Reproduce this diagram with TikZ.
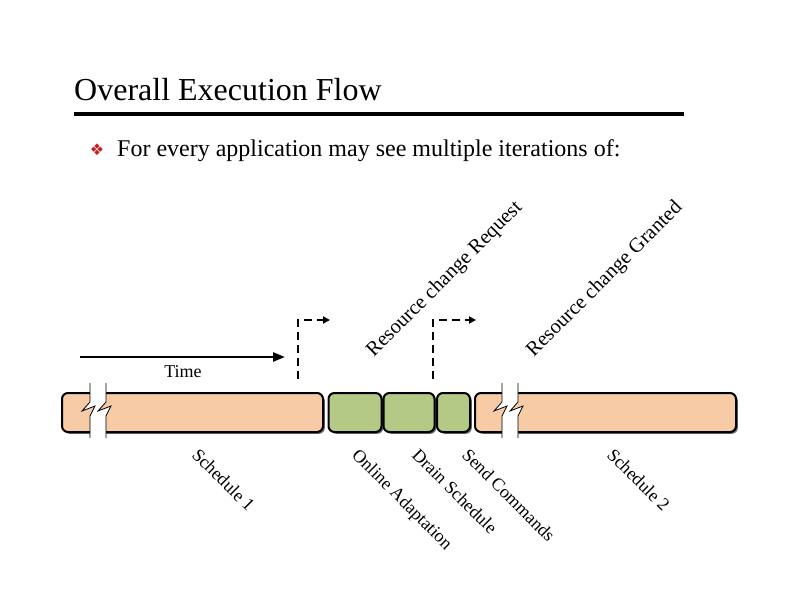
\documentclass[tikz,border=0pt]{standalone}
\usepackage{fontspec}
\setmainfont{Liberation Serif}
\newfontfamily\symfont{DejaVu Sans}
\usetikzlibrary{arrows.meta,shadows}
\definecolor{peach}{RGB}{248,203,167}
\definecolor{leaf}{RGB}{180,201,134}
\definecolor{bulletred}{RGB}{200,30,30}
\tikzset{
  seg/.style={draw=black, line width=2pt, rounded corners=6pt, minimum height=39pt, inner sep=0pt,
    drop shadow={shadow xshift=1.8pt, shadow yshift=-1.8pt, fill=black!60, opacity=1}},
  orange/.style={seg, fill=peach},
  green/.style={seg, fill=leaf},
  steplabel/.style={font=\fontsize{18}{20}\selectfont, rotate=-45, anchor=north west, inner sep=0pt},
  reslabel/.style={font=\fontsize{20.5}{22}\selectfont, rotate=45, anchor=south west, inner sep=0pt},
  dasharrow/.style={line width=2.6pt, dash pattern=on 8pt off 5pt, -{Triangle[length=7pt,width=7pt]}},
  breakedge/.style={draw=black, line width=0.8pt}
}
\begin{document}
\begin{tikzpicture}[x=1pt,y=-1pt]
\useasboundingbox[fill=white] (0,0) rectangle (792,612);
% title
\node[anchor=base west, inner sep=0pt, font=\fontsize{32}{36}\selectfont] (title) at (74,101) {Overall Execution Flow};
\fill (74,112.5) rectangle (684,116.5);
% bullet
\node[inner sep=0pt, text=bulletred, font=\symfont\fontsize{16}{18}\selectfont] (bul) at (97,150) {❖};
\node[anchor=base west, inner sep=0pt, font=\fontsize{24}{28}\selectfont] (btext) at (117,157) {For every application may see multiple iterations of:};
% time arrow
\coordinate (t0) at (80,357);
\coordinate (t1) at (285,357);
\draw[line width=2.5pt, -{Triangle[length=12pt,width=9pt]}] (t0) -- (t1);
\node[font=\fontsize{18}{20}\selectfont, inner sep=0pt] (time) at (183,372) {Time};
% dashed arrows
\coordinate (a0) at (298,379);
\coordinate (a1) at (298,320);
\coordinate (a2) at (330,320);
\draw[dasharrow] (a0) -- (a1) -- (a2);
\coordinate (b0) at (433,379);
\coordinate (b1) at (433,320);
\coordinate (b2) at (476,320);
\draw[dasharrow] (b0) -- (b1) -- (b2);
% rotated labels
\node[reslabel] (req) at (377,361) {Resource change Request};
\node[reslabel] (gra) at (537,361) {Resource change Granted};
% bar
\node[orange, minimum width=261pt] (s1) at (192.5,412.5) {};
\node[green, minimum width=53pt] (g1) at (355,412.5) {};
\node[green, minimum width=51pt] (g2) at (409,412.5) {};
\node[green, minimum width=33pt] (g3) at (453.5,412.5) {};
\node[orange, minimum width=261pt] (s2) at (605.5,412.5) {};
% breaks
\foreach \bx in {90,502}{
  \fill[white] (\bx,383) -- (\bx,402) -- (\bx-8,411) -- (\bx+5,406) -- (\bx,416) -- (\bx,438)
     -- (\bx+16,438) -- (\bx+16,416) -- (\bx+21,406) -- (\bx+8,411) -- (\bx+16,402) -- (\bx+16,383) -- cycle;
  \draw[breakedge] (\bx,383) -- (\bx,402) -- (\bx-8,411) -- (\bx+5,406) -- (\bx,416) -- (\bx,438);
  \draw[breakedge] (\bx+16,383) -- (\bx+16,402) -- (\bx+8,411) -- (\bx+21,406) -- (\bx+16,416) -- (\bx+16,438);
}
% bottom labels
\node[steplabel] (l1) at (200,447) {Schedule 1};
\node[steplabel] (l2) at (360,447) {Online Adaptation};
\node[steplabel] (l3) at (420,447) {Drain Schedule};
\node[steplabel] (l4) at (470,447) {Send Commands};
\node[steplabel] (l5) at (615,447) {Schedule 2};
\end{tikzpicture}
\end{document}
